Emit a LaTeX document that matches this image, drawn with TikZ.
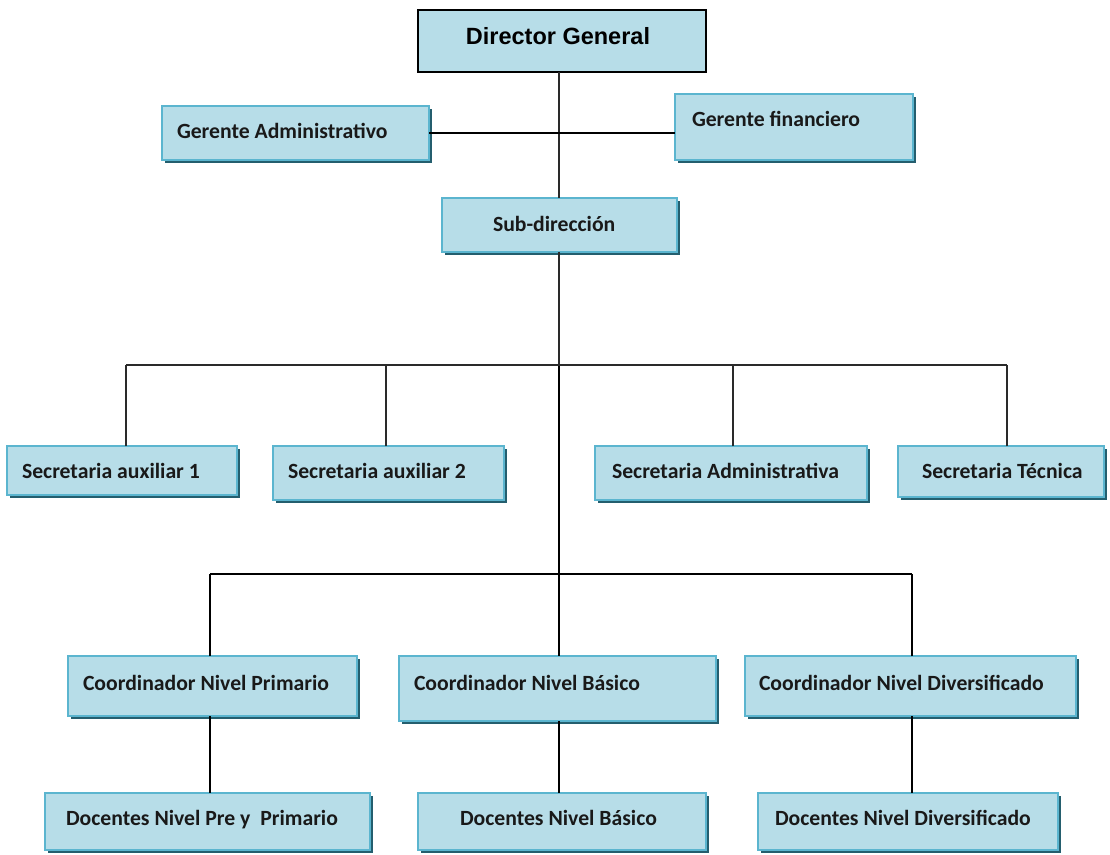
\documentclass[tikz,border=0pt]{standalone}
\usepackage{fontspec}
\setmainfont{Carlito}
\newfontfamily\arialb{Liberation Sans}
\usetikzlibrary{shadows}
\definecolor{boxfill}{HTML}{B7DDE8}
\definecolor{boxline}{HTML}{5BB5CF}
\definecolor{shcol}{HTML}{245E6E}
\definecolor{linecol}{HTML}{2A2A2A}
\tikzset{
  box/.style={draw=boxline, line width=1.2pt, fill=boxfill, inner sep=0pt, outer sep=0pt,
    drop shadow={shadow xshift=3pt, shadow yshift=-3pt, fill=shcol, opacity=1}},
  topbox/.style={draw=black, line width=1.5pt, fill=boxfill, inner sep=0pt, outer sep=0pt},
  lbl/.style={inner sep=0pt, outer sep=0pt, font=\bfseries\fontsize{21.7}{26}\selectfont, text=black!90},
  conn/.style={draw=linecol, line width=1.6pt},
  conn2/.style={draw=black, line width=1.3pt}
}
\begin{document}
\begin{tikzpicture}[x=1pt,y=-1pt]
\useasboundingbox (0,0) rectangle (1110,854);
\fill[white] (0,0) rectangle (1110,854);

% boxes
\node[topbox, minimum width=288pt, minimum height=62pt] (dg) at (562,41) {};
\node[box, minimum width=267pt, minimum height=54pt] (ga) at (295.5,133) {};
\node[box, minimum width=238pt, minimum height=66pt] (gf) at (794,127) {};
\node[box, minimum width=235pt, minimum height=54pt] (sd) at (559.5,225) {};

\node[box, minimum width=230pt, minimum height=49pt] (sa1) at (122,470.5) {};
\node[box, minimum width=231pt, minimum height=54pt] (sa2) at (388.5,473) {};
\node[box, minimum width=272pt, minimum height=54pt] (sad) at (731,473) {};
\node[box, minimum width=206pt, minimum height=51pt] (st) at (1001,471.5) {};

\node[box, minimum width=289pt, minimum height=60pt] (cp) at (212.5,686) {};
\node[box, minimum width=317pt, minimum height=65pt] (cb) at (557.5,688.5) {};
\node[box, minimum width=331pt, minimum height=60pt] (cd) at (910.5,686) {};

\node[box, minimum width=325pt, minimum height=57pt] (dp) at (207.5,821.5) {};
\node[box, minimum width=288pt, minimum height=57pt] (db) at (562,821.5) {};
\node[box, minimum width=300pt, minimum height=57pt] (dd) at (908,821.5) {};

% labels
\node[inner sep=0pt, anchor=base, font=\arialb\bfseries\fontsize{23.5}{28}\selectfont] (dg-t) at (558,44) {Director General};
\node[lbl, anchor=base west] (ga-t) at (177,138) {Gerente Administrativo};
\node[lbl, anchor=base west] (gf-t) at (692,126) {Gerente financiero};
\node[lbl, anchor=base west] (sd-t) at (493,231) {Sub-dirección};
\node[lbl, anchor=base west] (sa1-t) at (22,478) {Secretaria auxiliar 1};
\node[lbl, anchor=base west] (sa2-t) at (288,478) {Secretaria auxiliar 2};
\node[lbl, anchor=base west] (sad-t) at (612,478) {Secretaria Administrativa};
\node[lbl, anchor=base west] (st-t) at (922,478) {Secretaria Técnica};
\node[lbl, anchor=base west] (cp-t) at (83,690) {Coordinador Nivel Primario};
\node[lbl, anchor=base west] (cb-t) at (414,690) {Coordinador Nivel Básico};
\node[lbl, anchor=base west] (cd-t) at (759,690) {Coordinador Nivel Diversificado};
\node[lbl, anchor=base west] (dp-t) at (66,825) {Docentes Nivel Pre y\ \ Primario};
\node[lbl, anchor=base west] (db-t) at (460,825) {Docentes Nivel Básico};
\node[lbl, anchor=base west] (dd-t) at (775,825) {Docentes Nivel Diversificado};

% connectors
\coordinate (bus1) at (559,365);
\coordinate (bus2) at (559,574);
\draw[conn] (bus1 |- dg.south) -- (bus1 |- sd.north);
\draw[conn2] (ga.east) -- (ga.east -| gf.west);
\draw[conn] (bus1 |- sd.south) -- (bus1);
\draw[conn2] (bus1) -- (bus2);
\draw[conn] ([xshift=4pt]sa1.north |- bus1) -- ([xshift=6pt]st.north |- bus1);
\draw[conn] ([xshift=4pt]sa1.north) -- ([xshift=4pt]sa1.north |- bus1);
\draw[conn] ([xshift=-2.5pt]sa2.north) -- ([xshift=-2.5pt]sa2.north |- bus1);
\draw[conn] ([xshift=2pt]sad.north) -- ([xshift=2pt]sad.north |- bus1);
\draw[conn] ([xshift=6pt]st.north) -- ([xshift=6pt]st.north |- bus1);
\draw[conn2] ([xshift=-2.5pt]cp.north |- bus2) -- ([xshift=1.5pt]cd.north |- bus2);
\draw[conn2] ([xshift=-2.5pt]cp.north) -- ([xshift=-2.5pt]cp.north |- bus2);
\draw[conn2] (bus2) -- (bus2 |- cb.north);
\draw[conn2] ([xshift=1.5pt]cd.north) -- ([xshift=1.5pt]cd.north |- bus2);
\draw[conn2] ([xshift=-2.5pt]cp.south) -- ([xshift=-2.5pt]cp.south |- dp.north);
\draw[conn2] ([xshift=1.5pt]cb.south) -- ([xshift=1.5pt]cb.south |- db.north);
\draw[conn2] ([xshift=1.5pt]cd.south) -- ([xshift=1.5pt]cd.south |- dd.north);
\end{tikzpicture}
\end{document}
